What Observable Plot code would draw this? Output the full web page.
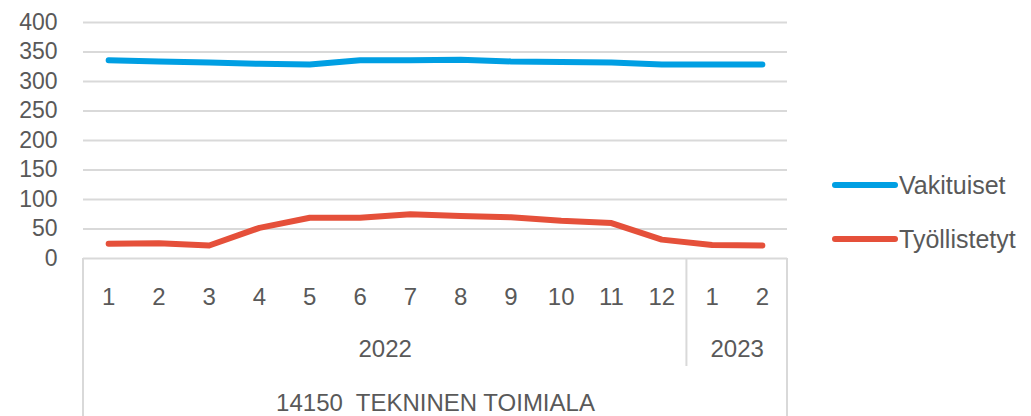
<!DOCTYPE html>
<html><head><meta charset="utf-8">
<script src="https://cdn.jsdelivr.net/npm/d3@7"></script>
<script src="https://cdn.jsdelivr.net/npm/@observablehq/plot@0.6"></script>
<style>
body{margin:0;background:#fff;}
#chart svg{display:block;}
</style></head>
<body><div id="chart"></div>
<script>
const months = ["1","2","3","4","5","6","7","8","9","10","11","12","1","2"];
const years = ["2022","2022","2022","2022","2022","2022","2022","2022","2022","2022","2022","2022","2023","2023"];
const vakituiset = [336, 334, 332, 330, 329, 336, 336, 337, 334, 333, 332, 329, 329, 329];
const tyollistetyt = [25, 26, 22, 52, 69, 69, 75, 72, 70, 64, 60, 32, 23, 22];
const groupLabel = "14150  TEKNINEN TOIMIALA";
const seriesNames = ["Vakituiset", "Työllistetyt"];
const colors = ["#009FE3", "#E5503A"];
const yTicks = [0,50,100,150,200,250,300,350,400];

const rows = [];
months.forEach((m, i) => {
  rows.push({i: i + 1, series: seriesNames[0], value: vakituiset[i]});
  rows.push({i: i + 1, series: seriesNames[1], value: tyollistetyt[i]});
});
const monthRows = months.map((m, i) => ({i: i + 1, label: m}));
const yearNames = Array.from(new Set(years));
const yearRows = yearNames.map(y => {
  const idx = years.map((v, k) => v === y ? k + 1 : null).filter(v => v != null);
  return {label: y, start: idx[0] - 0.5, end: idx[idx.length - 1] + 0.5, mid: (idx[0] + idx[idx.length - 1]) / 2};
});
const font = "'Liberation Sans', Arial, sans-serif";
const textColor = "#595959";

const chart = Plot.plot({
  width: 1031, height: 416,
  marginLeft: 83, marginRight: 244, marginTop: 22, marginBottom: 158,
  style: {fontFamily: font, background: "#fff", overflow: "visible"},
  x: {type: "linear", domain: [0.5, months.length + 0.5], axis: null},
  y: {domain: [0, 400], axis: null},
  color: {domain: seriesNames, range: colors},
  marks: [
    Plot.gridY(yTicks, {stroke: "#d9d9d9", strokeOpacity: 1, strokeWidth: 2}),
    Plot.axisY(yTicks, {tickSize: 0, tickPadding: 26, fontSize: 23, fill: textColor, label: null}),
    Plot.line(rows, {x: "i", y: "value", z: "series", stroke: "series", strokeWidth: 6, strokeLinecap: "round", strokeLinejoin: "round"}),
    Plot.text(monthRows, {x: "i", text: "label", frameAnchor: "bottom", dy: 46, fontSize: 24, fill: textColor}),
    Plot.text(yearRows, {x: "mid", text: "label", frameAnchor: "bottom", dy: 98, fontSize: 24, fill: textColor}),
    Plot.text([groupLabel], {x: (months.length + 1) / 2, text: d => d, frameAnchor: "bottom", dy: 152, fontSize: 24, fill: textColor})
  ]
});

// hierarchical category axis frame lines, positioned with the plot's x scale
const svg = d3.select(chart);
const xs = chart.scale("x");
const yBase = 416 - 158;
const lineColor = "#d9d9d9";
const outer = [0.5, months.length + 0.5];
outer.forEach(v => {
  svg.append("line").attr("x1", xs.apply(v)).attr("x2", xs.apply(v))
    .attr("y1", yBase).attr("y2", 416).attr("stroke", lineColor).attr("stroke-width", 2);
});
yearRows.slice(0, -1).forEach(r => {
  svg.append("line").attr("x1", xs.apply(r.end)).attr("x2", xs.apply(r.end))
    .attr("y1", yBase).attr("y2", yBase + 108).attr("stroke", lineColor).attr("stroke-width", 2);
});

// legend
const lg = svg.append("g").attr("font-family", font).attr("font-size", 25).attr("fill", textColor).attr("text-anchor", "start");
seriesNames.forEach((name, k) => {
  const cy = 185 + k * 54;
  lg.append("line").attr("x1", 835).attr("x2", 895).attr("y1", cy).attr("y2", cy)
    .attr("stroke", colors[k]).attr("stroke-width", 6).attr("stroke-linecap", "round");
  lg.append("text").attr("x", 899).attr("y", cy).attr("dy", "0.35em").attr("text-anchor", "start").text(name);
});

document.getElementById("chart").appendChild(chart);
</script>
</body></html>
